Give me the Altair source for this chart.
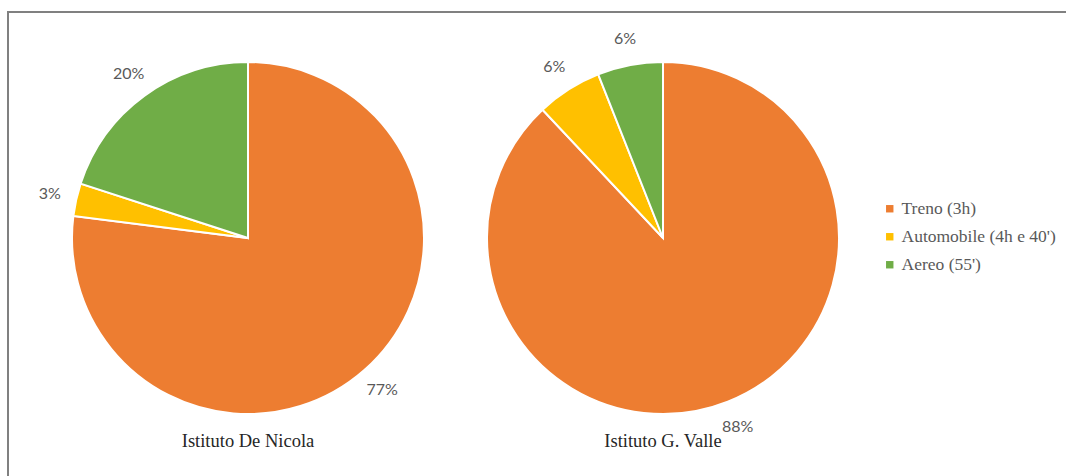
import altair as alt
import pandas as pd

institutes = ["Istituto De Nicola", "Istituto G. Valle"]
modes = ["Treno (3h)", "Automobile (4h e 40')", "Aereo (55')"]
de_nicola = [77, 3, 20]
valle = [88, 6, 6]
colors = ["#ED7D31", "#FFC000", "#70AD47"]

rows = []
for inst, vals in zip(institutes, [de_nicola, valle]):
    for i, (m, v) in enumerate(zip(modes, vals)):
        rows.append({"institute": inst, "mode": m, "value": v, "ord": i,
                     "label": f"{v}%"})
df = pd.DataFrame(rows)

centers = [(248, 238), (663, 238)]
R = 176

color = alt.Color("mode:N", scale=alt.Scale(domain=modes, range=colors),
                  legend=alt.Legend(title=None, orient="none", legendX=881, legendY=200,
                                    symbolType="square", symbolSize=55, symbolStrokeWidth=0,
                                    labelFont="Liberation Serif", labelFontSize=17.5,
                                    labelColor="#595959", rowPadding=9, labelOffset=3,
                                    padding=0))

layers = []
for inst, (cx, cy) in zip(institutes, centers):
    base = alt.Chart(df).transform_filter(alt.datum.institute == inst)
    arc = base.mark_arc(outerRadius=R, stroke="white", strokeWidth=2).encode(
        theta=alt.Theta("value:Q", stack=True),
        color=color,
        order=alt.Order("ord:Q"),
        x=alt.value(cx), y=alt.value(cy),
    )
    txt = base.mark_text(radius=R + 27, font="Lato", fontSize=16, color="#595959").encode(
        theta=alt.Theta("value:Q", stack=True),
        order=alt.Order("ord:Q"),
        text="label:N",
        x=alt.value(cx), y=alt.value(cy),
    )
    title = alt.Chart(pd.DataFrame({"t": [inst]})).mark_text(
        font="Liberation Serif", fontSize=18.5, color="#262626"
    ).encode(text="t:N", x=alt.value(cx), y=alt.value(441))
    layers += [arc, txt, title]

frame = alt.Chart(pd.DataFrame({"a": [0]})).mark_rect(
    fill=None, stroke="#808080", strokeWidth=2
).encode(x=alt.value(8), x2=alt.value(1080), y=alt.value(12), y2=alt.value(490))

chart = alt.layer(frame, *layers).properties(
    width=1066, height=476, padding=0, autosize=alt.AutoSizeParams(type="none")
).configure_view(stroke=None).resolve_scale(theta="independent")

chart.save("out.html", embed_options={"renderer": "svg", "actions": False})
